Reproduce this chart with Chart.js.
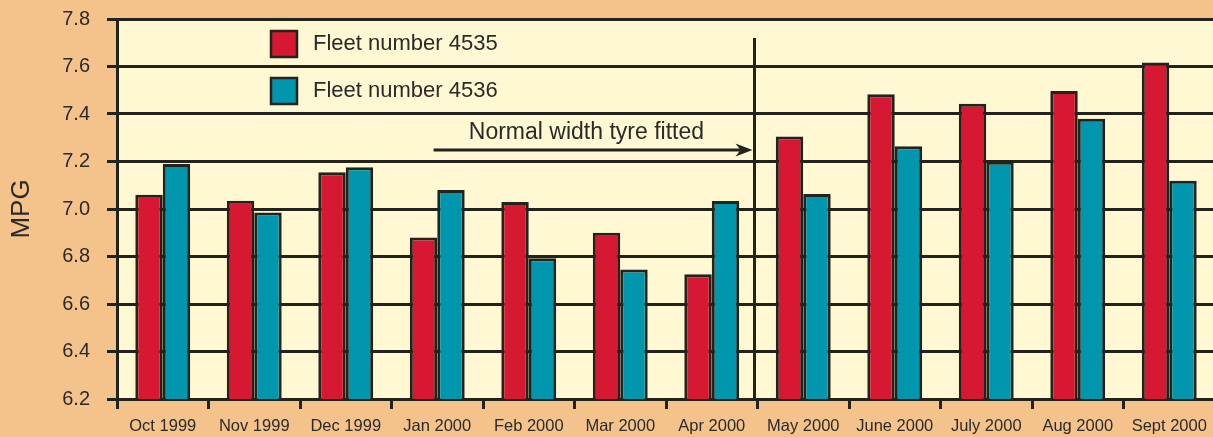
<!DOCTYPE html>
<html>
<head>
<meta charset="utf-8">
<script src="https://cdn.jsdelivr.net/npm/chart.js@4.4.1/dist/chart.umd.min.js"></script>
<style>
  html, body { margin: 0; padding: 0; background: #f4c38b; overflow: hidden; }
  #wrap { width: 1216px; height: 437px; }
</style>
</head>
<body>
<div id="wrap"><canvas id="chartMpg" width="1216" height="437"></canvas></div>
<script>
const categorias = ["Oct 1999", "Nov 1999", "Dec 1999", "Jan 2000", "Feb 2000", "Mar 2000", "Apr 2000",
  "May 2000", "June 2000", "July 2000", "Aug 2000", "Sept 2000"];
const flota4535 = [7.06, 7.035, 7.155, 6.88, 7.03, 6.90, 6.725, 7.305, 7.483, 7.443, 7.497, 7.617];
const flota4536 = [7.19, 6.985, 7.176, 7.08, 6.793, 6.745, 7.034, 7.063, 7.264, 7.199, 7.38, 7.119];
const ticksY = [6.2, 6.4, 6.6, 6.8, 7.0, 7.2, 7.4, 7.6, 7.8];
const nombres = ["Fleet number 4535", "Fleet number 4536"];
const nota = "Normal width tyre fitted";

const OSCURO = "#23231e";
const FUENTE = '"Liberation Sans", Arial, sans-serif';

// fondo crema del area de trazado
const fondoPlot = {
  id: "fondoPlot",
  beforeDraw(chart) {
    const { ctx, chartArea: a } = chart;
    ctx.save();
    ctx.fillStyle = "#fff8d3";
    ctx.fillRect(a.left, a.top, a.right - a.left, a.bottom - a.top);
    ctx.restore();
  }
};

// leyenda y anotacion dibujadas encima
const extras = {
  id: "extras",
  afterDatasetsDraw(chart) {
    const { ctx, scales: { x, y } } = chart;
    ctx.save();

    // linea vertical entre Apr y May
    const xCorte = x.getPixelForValue(6.5) - 3;
    ctx.strokeStyle = OSCURO;
    ctx.lineWidth = 3;
    ctx.beginPath();
    ctx.moveTo(xCorte, y.getPixelForValue(7.72));
    ctx.lineTo(xCorte, y.bottom);
    ctx.stroke();

    // flecha
    const yFlecha = y.getPixelForValue(7.248);
    const xIni = x.getPixelForValue(2.96);
    const xFin = xCorte - 2;
    ctx.beginPath();
    ctx.moveTo(xIni, yFlecha);
    ctx.lineTo(xFin - 12, yFlecha);
    ctx.stroke();
    ctx.fillStyle = OSCURO;
    ctx.beginPath();
    ctx.moveTo(xFin, yFlecha);
    ctx.lineTo(xFin - 17, yFlecha - 6.5);
    ctx.lineTo(xFin - 12, yFlecha);
    ctx.lineTo(xFin - 17, yFlecha + 6.5);
    ctx.closePath();
    ctx.fill();

    ctx.font = "23px " + FUENTE;
    ctx.fillStyle = "#2a2a2a";
    ctx.textAlign = "right";
    ctx.textBaseline = "middle";
    ctx.fillText(nota, 704, 133);

    // leyenda
    chart.data.datasets.forEach((ds, i) => {
      const top = 30 + i * 47;
      ctx.fillStyle = ds.backgroundColor;
      ctx.fillRect(270, top, 28, 28);
      ctx.strokeStyle = OSCURO;
      ctx.lineWidth = 2.5;
      ctx.strokeRect(271, top + 1, 26, 26);
      ctx.fillStyle = "#2a2a2a";
      ctx.textAlign = "left";
      ctx.font = "22px " + FUENTE;
      ctx.fillText(nombres[i], 313, top + 14);
    });
    ctx.restore();
  }
};

function init() {
  const canvas = document.getElementById("chartMpg");
  new Chart(canvas, {
    type: "bar",
    data: {
      labels: categorias,
      datasets: [
        { label: nombres[0], data: flota4535, backgroundColor: "#d71832", borderColor: OSCURO, borderWidth: 3 },
        { label: nombres[1], data: flota4536, backgroundColor: "#0097ae", borderColor: OSCURO, borderWidth: 3 }
      ]
    },
    options: {
      responsive: false,
      animation: false,
      layout: { padding: { top: 19, right: 1, left: 0, bottom: 0 } },
      datasets: { bar: { categoryPercentage: 0.6, barPercentage: 1.0 } },
      plugins: { legend: { display: false }, tooltip: { enabled: false } },
      scales: {
        x: {
          afterFit(scale) { scale.height = 38; },
          grid: { drawOnChartArea: false, drawTicks: true, tickLength: 10, lineWidth: 3, color: OSCURO },
          border: { display: true, width: 3, color: OSCURO },
          ticks: { autoSkip: false, maxRotation: 0, padding: 8, color: "#2a2a2a", font: { family: FUENTE, size: 16.5 } }
        },
        y: {
          min: 6.2,
          max: 7.8,
          afterFit(scale) {
            scale.width = 117;
            scale.paddingTop = 0;
            scale.paddingBottom = 0;
          },
          afterBuildTicks(scale) { scale.ticks = ticksY.map((v) => ({ value: v })); },
          grid: { tickLength: 10, lineWidth: 3, color: OSCURO },
          border: { display: true, width: 3, color: OSCURO },
          ticks: { padding: 17, color: "#2a2a2a", font: { family: FUENTE, size: 20 }, callback: (v) => Number(v).toFixed(1) },
          title: { display: true, text: "MPG", color: "#2a2a2a", font: { family: FUENTE, size: 26 }, padding: { top: 6, bottom: 0 } }
        }
      }
    },
    plugins: [fondoPlot, extras]
  });
}

if (document.readyState === "loading") {
  document.addEventListener("DOMContentLoaded", init);
} else {
  init();
}
</script>
</body>
</html>
